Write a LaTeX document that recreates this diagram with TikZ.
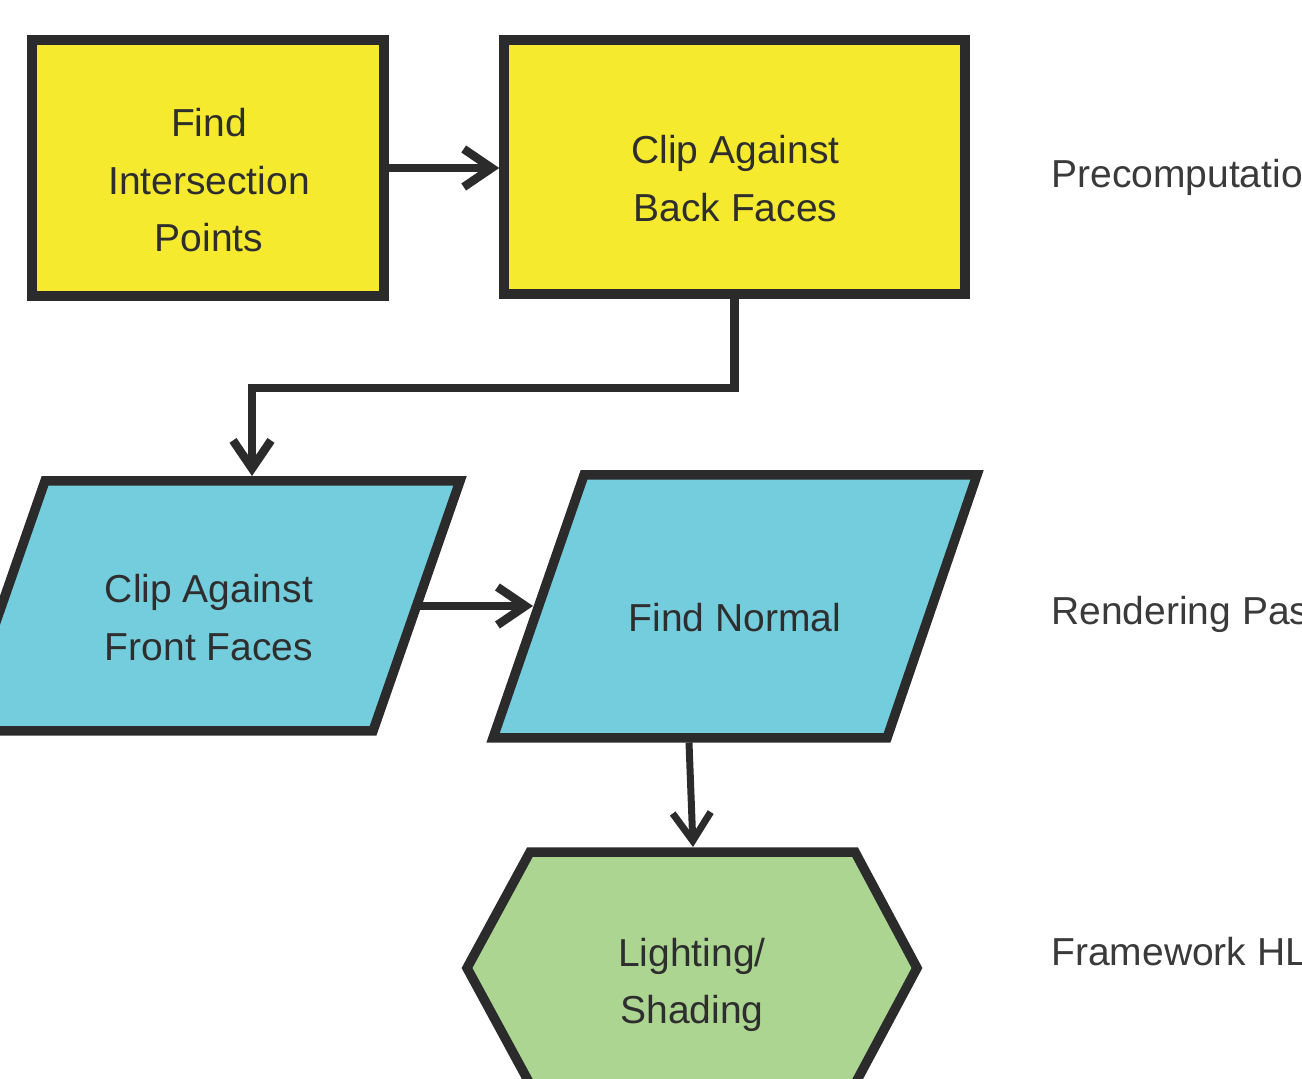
\documentclass[tikz,border=0pt]{standalone}
\usepackage{fontspec}
\setmainfont{Liberation Sans}
\usetikzlibrary{arrows.meta}

\definecolor{edge}{HTML}{2B2B2B}
\definecolor{ink}{HTML}{2E2E2E}
\definecolor{sideink}{HTML}{3A3A3A}
\definecolor{precomp}{HTML}{F6EA2E}
\definecolor{render}{HTML}{74CDDD}
\definecolor{framework}{HTML}{ACD591}

\begin{document}
\begin{tikzpicture}[x=0.5pt,y=-0.5pt,
  outline/.style={draw=edge, line width=4.75pt, line join=miter},
  procbox/.style={outline, fill=precomp, rectangle, inner sep=0pt},
  label text/.style={text=ink, inner sep=0pt, align=center,
    font=\fontsize{19.5pt}{28.75pt}\selectfont},
  stage text/.style={text=sideink, inner sep=0pt, anchor=base west,
    font=\fontsize{19.5pt}{28.75pt}\selectfont},
  flow/.style={draw=edge, line width=4.25pt, line join=miter,
    -{Straight Barb[length=14pt, width=19pt, line cap=butt, line join=miter]}},
]
\useasboundingbox (0,0) rectangle (1302,1079);
\clip (0,0) rectangle (1302,1079);

% --- precomputation stage: two plain boxes
\node[procbox, minimum width=176pt, minimum height=128pt] (findpts) at (208,168) {};
\node[procbox, minimum width=230.5pt, minimum height=127pt] (clipback) at (734.5,167) {};
\node[label text] (findpts text) at (209,180.5) {Find\\Intersection\\Points};
\node[label text] (clipback text) at (735.5,178.5) {Clip Against\\Back Faces};

% --- rendering pass: two parallelograms
\filldraw[outline, fill=render] (45,481) -- (460,481) -- (373,731) -- (-42,731) -- cycle;
\filldraw[outline, fill=render] (584,475) -- (977,475) -- (887,738) -- (493,738) -- cycle;
\node[label text] (clipfront text) at (209,617.5) {Clip Against\\Front Faces};
\node[label text] (normal text) at (735,618) {Find Normal};

% --- framework HLSL: hexagon
\filldraw[outline, fill=framework] (530,852) -- (855,852) -- (917,968) -- (855,1084)
  -- (530,1084) -- (467,968) -- cycle;
\node[label text] (shading text) at (692,985) {Lighting/\\Shading};

% connector end points on the slanted and hexagonal outlines
\coordinate (clipfront in)  at (252,476);
\coordinate (clipfront out) at (417,606);
\coordinate (normal in)     at (533,606);
\coordinate (normal out)    at (689,742.5);
\coordinate (shading in)    at (693,847);
\coordinate (turn)          at (252,388);

% --- connectors
\draw[flow] (findpts.east) -- (findpts.east -| clipback.west);
\draw[flow] (clipback.south) |- (turn) -- (clipfront in);
\draw[flow] (clipfront out) -- (normal in);
\draw[flow, line width=3.5pt] (normal out) -- (shading in);

% --- stage labels on the right
\node[stage text] (stage pre)  at (1051,188) {Precomputatio};
\node[stage text] (stage rend) at (1051,625) {Rendering Pas};
\node[stage text] (stage fw)   at (1051,965) {Framework HL};
\end{tikzpicture}
\end{document}
